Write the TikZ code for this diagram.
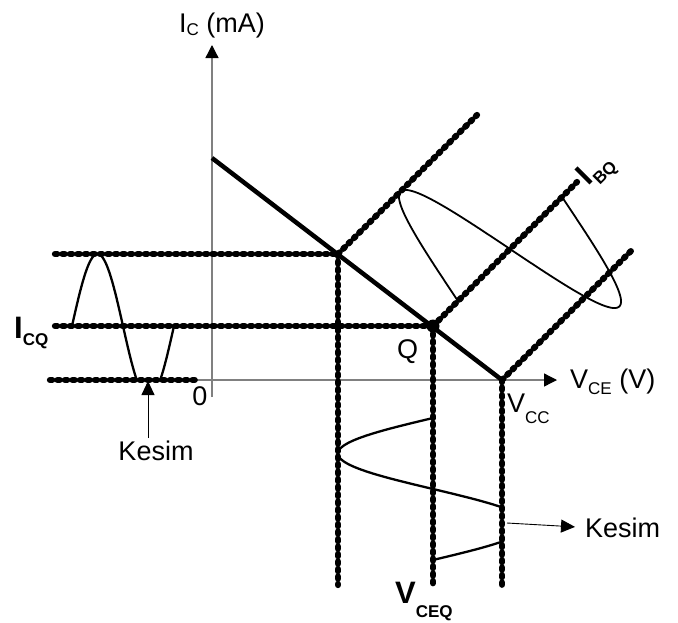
\documentclass[tikz,border=0pt]{standalone}
\usepackage{fontspec}
\setmainfont{Liberation Sans}
\usetikzlibrary{arrows.meta}
\tikzset{
  beads/.style={line width=6.3pt, line cap=round, dash pattern=on 2.2pt off 5.3pt},
  axisline/.style={gray, line width=1.3pt, -{Triangle[length=13pt,width=13pt,color=black]}},
  loadline/.style={line width=4.5pt},
  wave/.style={line width=2.3pt},
  pointer/.style={line width=0.9pt, -{Triangle[length=14pt,width=13pt]}},
  lbl/.style={inner sep=2pt, font=\fontsize{27}{30}\selectfont},
  biglbl/.style={inner sep=2pt, font=\fontsize{31}{34}\selectfont\bfseries}
}
\newcommand\lsub[2][6pt]{\raisebox{-#1}{\fontsize{17}{17}\selectfont #2}}

\begin{document}
\begin{tikzpicture}[x=1pt, y=-1pt]
  \useasboundingbox (0,0) rectangle (678,622);
  % axes
  \coordinate (O) at (212,380);
  \coordinate (ytip) at (212,45);
  \coordinate (xtip) at (557,380);
  \draw[axisline] (212,397) -- (ytip);
  \draw[axisline] (197,380) -- (xtip);
  % operating points on the load line
  \coordinate (Ib) at (212,158);
  \coordinate (sat) at (338,254);
  \coordinate (Q) at (433,326);
  \coordinate (Vcc) at (502,380);
  % dotted levels
  \draw[beads] (55,254) -- (sat);
  \draw[beads] (55,326) -- (Q);
  \draw[beads] (50,380) -- (195,380);
  \draw[beads] (sat) -- (338,585);
  \draw[beads] (Q) -- (433,585);
  \draw[beads] (Vcc) -- (502,585);
  \draw[beads] (sat) -- (477,115);
  \draw[beads] (Q) -- (577,182);
  \draw[beads] (Vcc) -- (633,249);
  % load line
  \draw[loadline] (Ib) -- (Vcc);
  % signals
  \draw[wave] plot[domain=0:360, samples=121, variable=\t]
    ({72+0.2833*\t}, {min(380, 326-72*sin(\t))});
  \draw[wave] plot[domain=0:360, samples=121, variable=\t]
    ({min(502, 433-95*sin(\t))}, {418+0.3944*\t});
  \draw[line width=1.8pt] plot[domain=0:360, samples=121, variable=\t]
    ({458+0.2889*\t-83.4*sin(\t)}, {301-0.2889*\t-83.4*sin(\t)});
  \fill (Q) circle (6.5);
  % labels
  \node[lbl, anchor=base west] (ic) at (177,32) {I\lsub[3pt]{C} (mA)};
  \node[lbl, anchor=base west] (vce) at (568,388) {V\lsub[6pt]{CE} (V)};
  \node[lbl, anchor=base] (zero) at (200,405) {0};
  \node[lbl, anchor=base west] (qlbl) at (395,358) {Q};
  \node[lbl, anchor=base west] (vcc) at (505,412) {V\lsub[11pt]{CC}};
  \node[biglbl, anchor=base west] (icq) at (12,338) {I\lsub[7pt]{CQ}};
  \node[biglbl, anchor=base west] (vceq) at (393,603) {V\lsub[14pt]{CEQ}};
  \node[biglbl, rotate=45] (ibq) at (597,171) {I\lsub[7pt]{BQ}};
  \node[lbl, anchor=base] (kesimL) at (156,460) {Kesim};
  \node[lbl, anchor=base west] (kesimR) at (583,537) {Kesim};
  \coordinate (cutL) at (148,381);
  \coordinate (cutR) at (507,523);
  \draw[pointer] (kesimL.north -| cutL) -- (cutL);
  \draw[pointer, shorten >=8pt] (cutR) -- (kesimR.west);
\end{tikzpicture}
\end{document}
